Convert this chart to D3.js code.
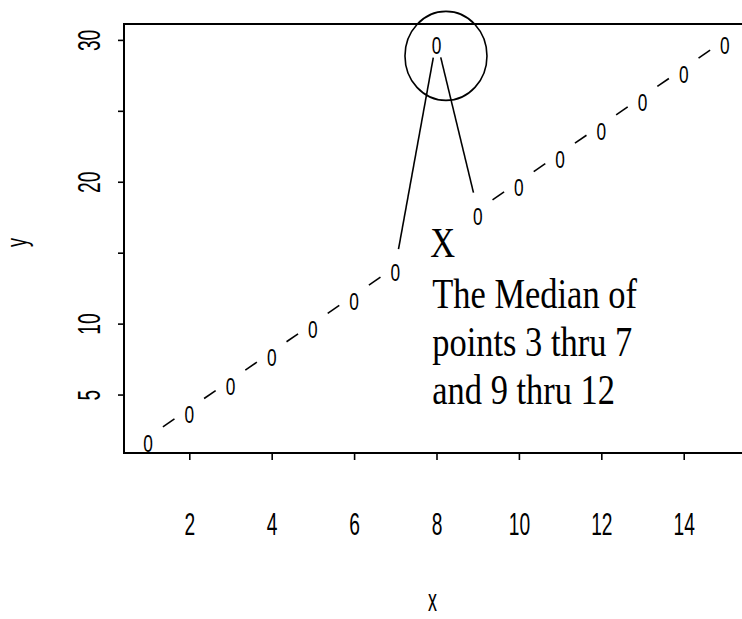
<!DOCTYPE html>
<html>
<head>
<meta charset="utf-8">
<script src="https://cdn.jsdelivr.net/npm/d3@7"></script>
<style>
  html, body { margin: 0; padding: 0; background: #fff; overflow: hidden; }
  svg { display: block; }
</style>
</head>
<body>
<svg id="chart" width="742" height="619"></svg>
<script>
// Observations: index and response
const xValues = [1, 2, 3, 4, 5, 6, 7, 8, 9, 10, 11, 12, 13, 14, 15];
const yValues = [2, 4, 6, 8, 10, 12, 14, 30, 18, 20, 22, 24, 26, 28, 30];

// Axis ticks
const xTicks = [2, 4, 6, 8, 10, 12, 14];
const xTickLabels = ["2", "4", "6", "8", "10", "12", "14"];
const yTicks = [5, 10, 15, 20, 25, 30];
const yTickLabels = ["5", "10", "", "20", "", "30"];

// Annotation
const markLabel = "X";
const noteLines = ["The Median of", "points 3 thru 7", "and 9 thru 12"];
const xTitle = "x";
const yTitle = "y";

const svg = d3.select("#chart");
const sans = "'Liberation Sans', Arial, sans-serif";
const serif = "'Liberation Serif', 'Times New Roman', serif";

// Axis ranges padded by 4% on each side
function padded(vals) {
  const [lo, hi] = d3.extent(vals);
  const p = (hi - lo) * 0.04;
  return [lo - p, hi + p];
}
const plotLeft = 125, plotRight = 748, plotTop = 24, plotBottom = 453;
const x = d3.scaleLinear().domain(padded(xValues)).range([plotLeft, plotRight]);
const y = d3.scaleLinear().domain(padded(yValues)).range([plotBottom, plotTop]);

const pts = xValues.map((v, i) => ({ x: x(v), y: y(yValues[i]) }));

// Plot frame
svg.append("rect")
  .attr("x", plotLeft - 1).attr("y", plotTop)
  .attr("width", plotRight - plotLeft + 1).attr("height", plotBottom - plotTop)
  .attr("fill", "none").attr("stroke", "#000").attr("stroke-width", 2);

// x axis
const gx = svg.append("g")
  .attr("transform", `translate(0,${plotBottom})`)
  .call(d3.axisBottom(x).tickValues(xTicks).tickSize(7)
    .tickFormat((d, i) => xTickLabels[i]));
gx.select(".domain").remove();
gx.selectAll(".tick line").attr("stroke", "#000").attr("stroke-width", 1.6);
gx.selectAll(".tick text")
  .attr("dy", null).attr("y", 82)
  .attr("transform", "scale(0.6,1)")
  .attr("font-family", sans).attr("font-size", 32).attr("fill", "#000");

// y axis
const gy = svg.append("g")
  .attr("transform", `translate(${plotLeft - 1},0)`)
  .call(d3.axisLeft(y).tickValues(yTicks).tickSize(6)
    .tickFormat((d, i) => yTickLabels[i]));
gy.select(".domain").remove();
gy.selectAll(".tick line").attr("stroke", "#000").attr("stroke-width", 1.6);
gy.selectAll(".tick text")
  .attr("dy", null).attr("x", 0).attr("y", -24)
  .attr("text-anchor", "middle")
  .attr("transform", "rotate(-90) scale(0.6,1)")
  .attr("font-family", sans).attr("font-size", 32).attr("fill", "#000");

// Axis titles
svg.append("text")
  .attr("transform", `translate(${(plotLeft + plotRight) / 2 - 4},611) scale(0.56,1)`)
  .attr("text-anchor", "middle")
  .attr("font-family", sans).attr("font-size", 32)
  .text(xTitle);
svg.append("text")
  .attr("transform", `translate(27,${(plotTop + plotBottom) / 2 + 4}) rotate(-90) scale(0.6,1)`)
  .attr("text-anchor", "middle")
  .attr("font-family", sans).attr("font-size", 30)
  .text(yTitle);

// Connecting segments, broken around each point
const gap = 18;
const segs = d3.pairs(pts).map(([a, b]) => {
  const dx = b.x - a.x, dy = b.y - a.y, len = Math.hypot(dx, dy);
  const ux = dx / len, uy = dy / len;
  return { x1: a.x + ux * gap, y1: a.y + uy * gap, x2: b.x - ux * gap, y2: b.y - uy * gap };
});
svg.append("g").selectAll("line").data(segs).join("line")
  .attr("x1", d => d.x1).attr("y1", d => d.y1)
  .attr("x2", d => d.x2).attr("y2", d => d.y2)
  .attr("stroke", "#000").attr("stroke-width", 1.6);

// Point symbols
svg.append("g").selectAll("text").data(pts).join("text")
  .attr("transform", d => `translate(${d.x},${d.y}) scale(0.72,1)`)
  .attr("y", 14.5)
  .attr("text-anchor", "middle")
  .attr("font-family", sans).attr("font-size", 24)
  .text("0");

// Circle around the outlying point
svg.append("ellipse")
  .attr("cx", x(8.23)).attr("cy", y(28.87))
  .attr("rx", 41).attr("ry", 44.5)
  .attr("fill", "none").attr("stroke", "#000").attr("stroke-width", 1.6);

// Median mark and note
const noteX = x(7.85), noteY = y(14.7);
svg.append("text")
  .attr("transform", `translate(${noteX},${noteY}) scale(0.82,1)`)
  .attr("font-family", serif).attr("font-size", 42)
  .text(markLabel);
svg.append("g").selectAll("text").data(noteLines).join("text")
  .attr("transform", (d, i) => `translate(${noteX + 2},${noteY + 51 + 48 * i}) scale(0.82,1)`)
  .attr("font-family", serif).attr("font-size", 42)
  .text(d => d);
</script>
</body>
</html>
